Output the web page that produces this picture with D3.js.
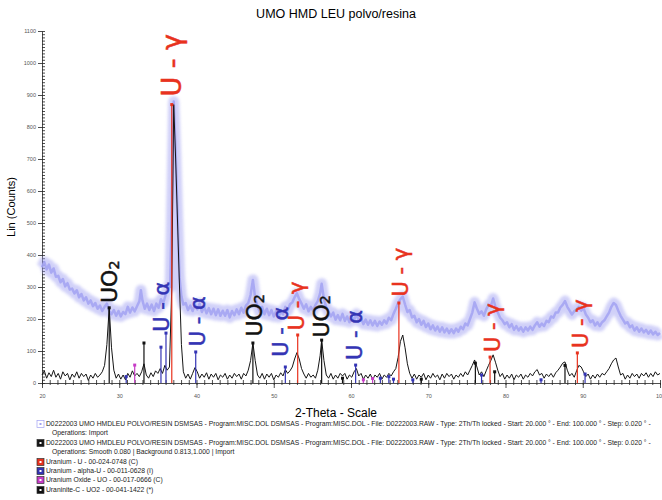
<!DOCTYPE html>
<html>
<head>
<meta charset="utf-8">
<script src="https://cdn.jsdelivr.net/npm/d3@7"></script>
<style>
  body { margin: 0; background: #fff; }
  svg { font-family: "Liberation Sans", Arial, sans-serif; }
  .axis text { font-size: 5.5px; fill: #555; }
  .axis line, .axis path { stroke: #222; stroke-width: 0.8; }
</style>
</head>
<body>
<svg id="chart" width="662" height="500"></svg>
<script>
// raw scan (with background), [2theta, counts]
let raw_scan = [
  [20.0,362],[20.3,378],[20.6,355],[20.9,370],[21.2,345],[21.5,358],[21.8,332],[22.1,335],[22.4,315],[22.7,325],
  [23.0,302],[23.3,312],[23.6,292],[23.9,295],[24.2,280],[24.5,290],[24.8,268],[25.1,278],[25.4,258],[25.7,268],
  [26.0,248],[26.3,258],[26.6,240],[26.9,250],[27.2,232],[27.5,242],[27.8,225],[28.1,238],[28.4,248],[28.7,225],
  [29.0,215],[29.3,228],[29.6,210],[29.9,225],[30.2,208],[30.5,222],[30.8,215],[31.1,238],[31.4,220],[31.7,236],
  [32.0,224],[32.3,240],[32.6,255],[32.8,290],[33.0,258],[33.3,232],[33.6,248],[33.9,228],[34.2,245],[34.5,225],
  [34.8,248],[35.1,235],[35.4,262],[35.7,250],[36.0,275],[36.3,300],[36.6,300],[36.8,560],[37.05,880],[37.3,720],
  [37.55,520],[37.8,330],[38.05,270],[38.3,245],[38.6,250],[38.9,228],[39.2,242],[39.5,225],[39.8,245],[40.1,230],
  [40.4,248],[40.7,222],[41.0,238],[41.3,218],[41.6,234],[41.9,215],[42.2,232],[42.5,212],[42.8,230],[43.1,210],
  [43.4,226],[43.7,210],[44.0,228],[44.3,205],[44.6,225],[44.9,212],[45.2,230],[45.5,215],[45.8,235],[46.1,220],
  [46.4,242],[46.7,250],[47.0,275],[47.3,322],[47.6,265],[47.9,240],[48.2,222],[48.5,238],[48.8,215],[49.1,232],
  [49.4,212],[49.7,228],[50.0,208],[50.3,224],[50.6,206],[50.9,222],[51.2,214],[51.5,238],[51.8,226],[52.1,246],
  [52.4,252],[52.7,268],[53.0,280],[53.3,262],[53.6,248],[53.9,232],[54.2,246],[54.5,224],[54.8,238],[55.1,226],
  [55.4,244],[55.7,256],[56.0,280],[56.2,310],[56.5,262],[56.8,235],[57.1,222],[57.4,208],[57.7,220],[58.0,198],
  [58.3,212],[58.6,196],[58.9,216],[59.2,194],[59.5,208],[59.8,190],[60.1,206],[60.4,196],[60.7,216],[61.0,194],
  [61.3,204],[61.6,184],[61.9,198],[62.2,182],[62.5,196],[62.8,180],[63.1,194],[63.4,178],[63.7,192],[64.0,182],
  [64.3,196],[64.6,186],[64.9,204],[65.2,196],[65.5,216],[65.8,232],[66.1,250],[66.4,262],[66.7,270],[67.0,245],
  [67.3,222],[67.6,228],[67.9,205],[68.2,210],[68.5,190],[68.8,200],[69.1,182],[69.4,194],[69.7,175],[70.0,186],
  [70.3,168],[70.6,180],[70.9,164],[71.2,176],[71.5,160],[71.8,174],[72.1,158],[72.4,170],[72.7,156],[73.0,168],
  [73.3,156],[73.6,170],[73.9,160],[74.2,176],[74.5,168],[74.8,186],[75.1,180],[75.4,200],[75.7,220],[76.0,252],
  [76.3,232],[76.6,216],[76.9,224],[77.2,210],[77.5,230],[77.8,244],[78.1,240],[78.4,264],[78.7,238],[79.0,220],
  [79.3,204],[79.6,196],[79.9,184],[80.2,190],[80.5,174],[80.8,184],[81.1,166],[81.4,178],[81.7,164],[82.0,174],
  [82.3,160],[82.6,174],[82.9,164],[83.2,176],[83.5,166],[83.8,180],[84.1,190],[84.4,176],[84.7,186],[85.0,178],
  [85.3,194],[85.6,190],[85.9,208],[86.2,204],[86.5,220],[86.8,220],[87.1,236],[87.4,244],[87.7,256],[88.0,238],
  [88.3,226],[88.6,214],[88.9,224],[89.2,230],[89.5,238],[89.8,226],[90.1,234],[90.4,214],[90.7,204],[91.0,190],
  [91.3,196],[91.6,180],[91.9,190],[92.2,178],[92.5,190],[92.8,196],[93.1,208],[93.4,220],[93.7,238],[94.0,250],
  [94.3,244],[94.6,226],[94.9,210],[95.2,198],[95.5,186],[95.8,190],[96.1,174],[96.4,180],[96.7,164],[97.0,174],
  [97.3,160],[97.6,170],[97.9,158],[98.2,166],[98.5,154],[98.8,164],[99.1,152],[99.4,160],[99.7,150],[100.0,156]
];

// smoothed, background subtracted scan, [2theta, counts]
let smooth_scan = [
  [20.0,25],[20.3,38],[20.6,15],[20.9,32],[21.2,20],[21.5,40],[21.8,18],[22.1,30],[22.4,12],[22.7,35],
  [23.0,22],[23.3,30],[23.6,10],[23.9,28],[24.2,18],[24.5,35],[24.8,15],[25.1,30],[25.4,20],[25.7,28],
  [26.0,8],[26.3,25],[26.6,15],[26.9,30],[27.2,18],[27.5,25],[27.8,35],[28.1,55],[28.4,120],[28.7,235],
  [29.0,110],[29.3,40],[29.6,15],[29.9,28],[30.2,12],[30.5,25],[30.8,10],[31.1,30],[31.4,18],[31.7,38],
  [32.0,22],[32.3,30],[32.6,20],[32.9,35],[33.2,60],[33.5,25],[33.8,15],[34.1,32],[34.4,20],[34.7,38],
  [35.0,30],[35.3,45],[35.6,30],[35.9,55],[36.2,40],[36.5,50],[36.8,300],[37.05,870],[37.3,700],[37.55,500],
  [37.8,300],[38.05,120],[38.3,35],[38.6,15],[38.9,28],[39.2,12],[39.5,30],[39.8,48],[40.1,35],[40.4,15],
  [40.7,28],[41.0,18],[41.3,32],[41.6,12],[41.9,28],[42.2,18],[42.5,30],[42.8,10],[43.1,25],[43.4,18],
  [43.7,30],[44.0,12],[44.3,25],[44.6,15],[44.9,30],[45.2,20],[45.5,28],[45.8,12],[46.1,30],[46.4,22],
  [46.7,40],[47.0,70],[47.3,125],[47.6,70],[47.9,25],[48.2,15],[48.5,30],[48.8,12],[49.1,28],[49.4,18],
  [49.7,30],[50.0,10],[50.3,25],[50.6,18],[50.9,32],[51.2,22],[51.5,42],[51.8,30],[52.1,38],[52.4,50],
  [52.7,75],[53.0,95],[53.3,75],[53.6,45],[53.9,28],[54.2,15],[54.5,30],[54.8,18],[55.1,25],[55.4,15],
  [55.7,40],[56.0,85],[56.2,134],[56.5,70],[56.8,25],[57.1,15],[57.4,30],[57.7,12],[58.0,25],[58.3,15],
  [58.6,30],[58.9,22],[59.2,30],[59.5,12],[59.8,25],[60.1,18],[60.4,35],[60.7,45],[61.0,22],[61.3,30],
  [61.6,12],[61.9,25],[62.2,15],[62.5,28],[62.8,10],[63.1,25],[63.4,18],[63.7,30],[64.0,12],[64.3,25],
  [64.6,18],[64.9,30],[65.2,22],[65.5,35],[65.8,45],[66.1,80],[66.4,130],[66.7,150],[67.0,110],[67.3,60],
  [67.6,30],[67.9,15],[68.2,28],[68.5,12],[68.8,25],[69.1,18],[69.4,30],[69.7,10],[70.0,25],[70.3,15],
  [70.6,30],[70.9,18],[71.2,25],[71.5,10],[71.8,28],[72.1,15],[72.4,30],[72.7,20],[73.0,28],[73.3,12],
  [73.6,25],[73.9,18],[74.2,30],[74.5,20],[74.8,35],[75.1,25],[75.4,40],[75.7,55],[76.0,72],[76.3,50],
  [76.6,25],[76.9,35],[77.2,20],[77.5,38],[77.8,55],[78.1,70],[78.4,88],[78.7,65],[79.0,40],[79.3,20],
  [79.6,30],[79.9,12],[80.2,25],[80.5,15],[80.8,28],[81.1,10],[81.4,25],[81.7,18],[82.0,28],[82.3,12],
  [82.6,25],[82.9,18],[83.2,30],[83.5,22],[83.8,35],[84.1,42],[84.4,25],[84.7,30],[85.0,15],[85.3,28],
  [85.6,20],[85.9,30],[86.2,18],[86.5,32],[86.8,40],[87.1,50],[87.4,62],[87.7,66],[88.0,40],[88.3,22],
  [88.6,30],[88.9,18],[89.2,38],[89.5,55],[89.8,50],[90.1,35],[90.4,20],[90.7,28],[91.0,12],[91.3,25],
  [91.6,15],[91.9,28],[92.2,18],[92.5,30],[92.8,25],[93.1,35],[93.4,45],[93.7,60],[94.0,72],[94.3,78],
  [94.6,50],[94.9,25],[95.2,30],[95.5,12],[95.8,25],[96.1,15],[96.4,30],[96.7,20],[97.0,28],[97.3,15],
  [97.6,30],[97.9,22],[98.2,32],[98.5,18],[98.8,30],[99.1,20],[99.4,35],[99.7,25],[100.0,30]
];

// reference pattern sticks, [2theta, counts]
let sticks_gamma_u = [[36.8,870],[53.1,150],[66.2,250],[78.0,81],[89.3,94]];
let sticks_alpha_u = [[30.9,20],[35.4,112],[36.05,156],[39.9,97],[51.5,50],[60.6,56],[63.8,15],
  [64.9,20],[65.5,12],[68.0,10],[76.9,25],[84.6,10],[90.3,28]];
let sticks_uo = [[32.0,56],[61.6,10],[62.8,14]];
let sticks_uo2 = [[28.7,235],[33.2,125],[47.3,125],[56.2,134],[58.9,15],[69.1,12],[76.1,62],[78.6,35],[87.7,55]];

// peak labels, [phase, 2theta, counts where the label starts]
let peak_labels = [
  ["gamma",36.8,895],["uo2",28.7,250],["alpha",35.5,160],["alpha",40.2,115],["uo2",47.5,145],
  ["alpha",50.9,82],["gamma",53.0,165],["uo2",56.1,142],["alpha",60.5,72],["gamma",66.5,270],
  ["gamma",78.4,97],["gamma",89.8,109]
];

let y_ticks = d3.range(0, 1101, 100);
let x_ticks = d3.range(20, 101, 10);

let legend_lines = [
  ["raw", "D0222003 UMO HMDLEU POLVO/RESIN DSMSAS - Program:MISC.DOL   DSMSAS - Program:MISC.DOL - File: D0222003.RAW - Type: 2Th/Th locked - Start: 20.000 ° - End: 100.000 ° - Step: 0.020 ° -"],
  [null, "Operations: Import"],
  ["smooth", "D0222003 UMO HMDLEU POLVO/RESIN DSMSAS - Program:MISC.DOL   DSMSAS - Program:MISC.DOL - File: D0222003.RAW - Type: 2Th/Th locked - Start: 20.000 ° - End: 100.000 ° - Step: 0.020 ° -"],
  [null, "Operations: Smooth 0.080 | Background 0.813,1.000 | Import"],
  ["gamma", "Uranium - U - 00-024-0748 (C)"],
  ["alpha", "Uranium - alpha-U - 00-011-0628 (I)"],
  ["uo", "Uranium Oxide - UO - 00-017-0666 (C)"],
  ["uo2", "Uraninite-C - UO2 - 00-041-1422 (*)"]
];

let colors = {
  raw: "#a2a2f2",
  smooth: "#161616",
  gamma: "#e8321e",
  alpha: "#3434b4",
  uo: "#c63cc6",
  uo2: "#111111"
};
let label_size = { gamma: 21, alpha: 21, uo2: 22 };

let svg = d3.select("#chart");

let x_scale = d3.scaleLinear().domain([20, 100]).range([42, 660]);
let y_scale = d3.scaleLinear().domain([0, 1100]).range([383, 31]);

// soft edge for the noisy raw band
svg.append("defs")
  .append("filter")
  .attr("id", "fuzz")
  .attr("x", "-5%").attr("y", "-20%").attr("width", "110%").attr("height", "140%")
  .append("feGaussianBlur")
  .attr("stdDeviation", 1.8);

// title and axis names
svg.append("text")
  .attr("x", 336).attr("y", 18)
  .attr("text-anchor", "middle")
  .style("font-size", "12.5px")
  .text("UMO HMD LEU polvo/resina");

svg.append("text")
  .attr("transform", "translate(15," + ((y_scale.range()[0] + y_scale.range()[1]) / 2) + ") rotate(-90)")
  .attr("text-anchor", "middle")
  .style("font-size", "11px")
  .text("Lin (Counts)");

svg.append("text")
  .attr("x", 336).attr("y", 417)
  .attr("text-anchor", "middle")
  .style("font-size", "12px")
  .text("2-Theta - Scale");

// axes
let plot_left = x_scale.range()[0];
let plot_bottom = y_scale.range()[0];

svg.append("g").classed("axis", true)
  .attr("transform", "translate(" + plot_left + ",0)")
  .call(d3.axisLeft(y_scale).tickValues(y_ticks).tickSize(4).tickSizeOuter(0).tickPadding(2)
    .tickFormat(d3.format("d")));

svg.append("g").classed("axis", true)
  .attr("transform", "translate(" + plot_left + ",0)")
  .call(d3.axisRight(y_scale).tickValues(d3.range(0, 1101, 10)).tickSize(3).tickFormat(""))
  .call(g => g.select(".domain").remove());

svg.append("g").classed("axis", true)
  .attr("transform", "translate(0," + plot_bottom + ")")
  .call(d3.axisBottom(x_scale).tickValues(x_ticks).tickSize(5).tickSizeOuter(0).tickPadding(6));

svg.append("g").classed("axis", true)
  .attr("transform", "translate(0," + plot_bottom + ")")
  .call(d3.axisBottom(x_scale).tickValues(d3.range(20, 101, 1)).tickSize(2).tickFormat(""))
  .call(g => g.select(".domain").remove());

svg.append("g").classed("axis", true)
  .attr("transform", "translate(0," + plot_bottom + ")")
  .call(d3.axisTop(x_scale).tickValues(d3.range(20, 101, 1)).tickSize(3).tickFormat(""))
  .call(g => g.select(".domain").remove());

// scans
let scan_line = d3.line()
  .x(d => x_scale(d[0]))
  .y(d => y_scale(d[1]));

// the raw scan is a noisy band: a blurred wide stroke under a thin one
svg.append("path")
  .datum(raw_scan)
  .attr("d", scan_line)
  .attr("fill", "none")
  .attr("stroke", colors.raw)
  .attr("stroke-width", 11)
  .attr("stroke-linejoin", "round")
  .attr("opacity", 0.5)
  .attr("filter", "url(#fuzz)");

svg.append("path")
  .datum(raw_scan)
  .attr("d", scan_line)
  .attr("fill", "none")
  .attr("stroke", colors.raw)
  .attr("stroke-width", 2.5)
  .attr("stroke-linejoin", "round")
  .attr("opacity", 0.85);

svg.append("path")
  .datum(smooth_scan)
  .attr("d", scan_line)
  .attr("fill", "none")
  .attr("stroke", colors.smooth)
  .attr("stroke-width", 1);

// reference sticks
let stick_sets = [
  ["uo2", sticks_uo2], ["uo", sticks_uo], ["alpha", sticks_alpha_u], ["gamma", sticks_gamma_u]
];

stick_sets.forEach(([phase, sticks]) => {
  let g = svg.append("g");
  g.selectAll("line")
    .data(sticks)
    .join("line")
    .attr("x1", d => x_scale(d[0])).attr("x2", d => x_scale(d[0]))
    .attr("y1", y_scale(0)).attr("y2", d => y_scale(d[1]))
    .attr("stroke", colors[phase])
    .attr("stroke-width", 1.2);
  g.selectAll("rect")
    .data(sticks)
    .join("rect")
    .attr("x", d => x_scale(d[0]) - 1.5)
    .attr("y", d => y_scale(d[1]) - 1.5)
    .attr("width", 3).attr("height", 3)
    .attr("fill", colors[phase]);
});

// peak labels, reading bottom to top
let label_g = svg.append("g")
  .style("font-family", "'DejaVu Sans', sans-serif");

peak_labels.forEach(([phase, theta, counts]) => {
  let size = counts > 500 ? 27 : label_size[phase];
  let t = label_g.append("text")
    .attr("transform", "translate(" + x_scale(theta) + "," + y_scale(counts) + ") rotate(-90)")
    .attr("dominant-baseline", "central")
    .attr("fill", colors[phase])
    .attr("stroke", colors[phase])
    .attr("stroke-width", 0.5)
    .style("font-size", size + "px");
  if (phase == "uo2") {
    t.append("tspan").text("UO");
    t.append("tspan").attr("dy", "0.3em").style("font-size", "0.65em").text("2");
  } else {
    t.text(phase == "gamma" ? "U - γ" : "U - α");
  }
});

// legend
let legend_g = svg.append("g");
let legend_y = [424, 433, 443, 452, 462, 471, 480, 490];

let legend_texts = [];
legend_lines.forEach(([key, text], i) => {
  let y = legend_y[i];
  if (key) {
    legend_g.append("rect")
      .attr("x", 37).attr("y", y - 3.5)
      .attr("width", 7).attr("height", 7)
      .attr("fill", key == "raw" ? "#fff" : colors[key])
      .attr("stroke", key == "raw" ? colors.raw : "#333")
      .attr("stroke-width", 0.7);
    legend_g.append("rect")
      .attr("x", 39.5).attr("y", y - 1)
      .attr("width", 2).attr("height", 2)
      .attr("fill", key == "raw" ? colors.raw : "#fff");
  }
  legend_texts.push(legend_g.append("text")
    .attr("x", key ? 46 : 52).attr("y", y + 2.2)
    .style("font-size", "6px")
    .attr("fill", "#222")
    .text(text));
});

// the long scan lines run out to the right edge of the plot
let long_width = legend_texts[0].node().getComputedTextLength();
let legend_font = 6 * (652 - 46) / long_width;
legend_texts.forEach(t => t.style("font-size", legend_font + "px"));
</script>
</body>
</html>
